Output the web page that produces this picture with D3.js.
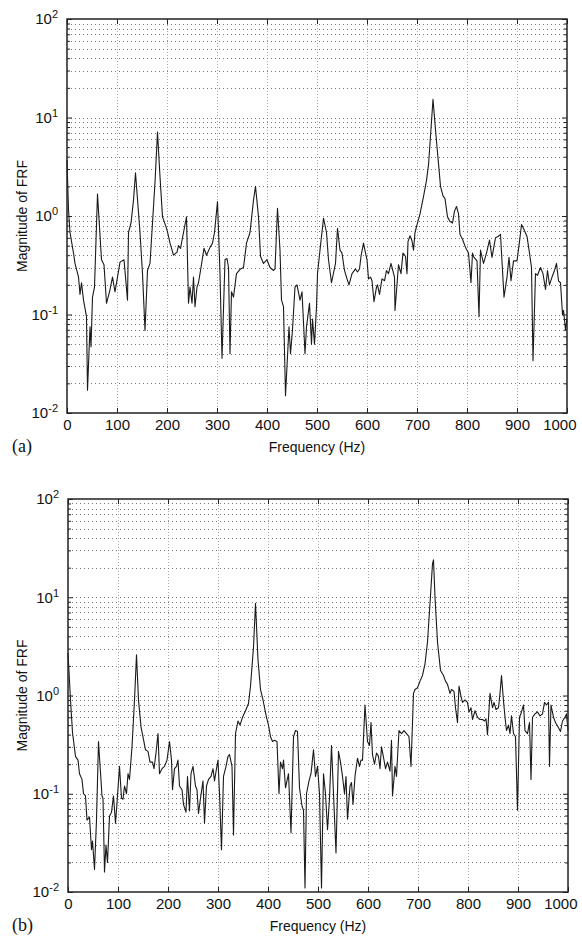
<!DOCTYPE html>
<html>
<head>
<meta charset="utf-8">
<script src="https://cdn.jsdelivr.net/npm/d3@7/dist/d3.min.js"></script>
<style>
  body { margin: 0; background: #fff; }
  svg { display: block; }
</style>
</head>
<body>
<div id="chart"></div>
<script>
// x tick values and y decade range shared by both panels
var freqTicks = [0, 100, 200, 300, 400, 500, 600, 700, 800, 900, 1000];
var magDomain = [0.01, 100];
var xLabel = "Frequency (Hz)";
var yLabel = "Magnitude of FRF";

// panel (a)
var freqA = [0, 3, 6, 13, 16, 23, 26, 29, 33, 39, 41, 46, 48, 51, 55, 61, 69, 74, 79, 85,
    91, 96, 101, 106, 114, 121, 123, 128, 133, 137, 146, 151, 156, 161, 166, 171, 176, 181, 186, 191,
    198, 201, 206, 213, 220, 223, 227, 233, 239, 243, 246, 250, 253, 256, 260, 263, 268, 274, 279, 286,
    291, 295, 301, 306, 310, 316, 320, 323, 326, 329, 333, 339, 347, 353, 359, 366, 373, 377, 383, 387,
    393, 400, 406, 413, 416, 421, 426, 429, 433, 437, 444, 447, 451, 456, 460, 466, 470, 474, 476, 479,
    485, 489, 491, 495, 499, 501, 506, 513, 519, 523, 529, 537, 541, 546, 550, 555, 560, 564, 570, 577,
    581, 585, 588, 593, 597, 600, 603, 607, 610, 614, 619, 621, 625, 630, 635, 639, 643, 648, 655, 656,
    663, 668, 672, 677, 680, 682, 686, 690, 693, 696, 699, 706, 713, 719, 723, 727, 732, 737, 743, 747,
    752, 756, 761, 766, 771, 775, 779, 783, 786, 791, 797, 803, 808, 811, 814, 820, 824, 827, 833, 839,
    845, 850, 857, 862, 867, 874, 880, 884, 888, 893, 900, 905, 909, 914, 920, 925, 929, 932, 937, 941,
    947, 952, 957, 961, 965, 970, 975, 979, 983, 987, 991, 993, 997, 1000];
var magA = [3.7, 1.15, 0.68, 0.42, 0.33, 0.24, 0.16, 0.21, 0.14, 0.095, 0.017, 0.075, 0.047, 0.15, 0.19, 1.67, 0.36, 0.32, 0.13, 0.17,
    0.24, 0.17, 0.24, 0.34, 0.36, 0.14, 0.68, 0.85, 1.45, 2.75, 0.68, 0.26, 0.069, 0.28, 0.33, 0.85, 2.2, 7.1, 2.5, 0.98,
    0.78, 0.69, 0.53, 0.40, 0.43, 0.50, 0.47, 0.68, 0.98, 0.13, 0.19, 0.13, 0.24, 0.12, 0.19, 0.21, 0.30, 0.47, 0.40, 0.48,
    0.53, 0.68, 1.4, 0.26, 0.036, 0.36, 0.37, 0.30, 0.04, 0.17, 0.15, 0.26, 0.29, 0.30, 0.53, 0.68, 1.45, 2.0, 0.98, 0.39,
    0.33, 0.36, 0.30, 0.28, 0.29, 1.2, 0.45, 0.14, 0.12, 0.015, 0.075, 0.04, 0.07, 0.19, 0.20, 0.14, 0.17, 0.065, 0.04, 0.075,
    0.13, 0.05, 0.09, 0.05, 0.12, 0.26, 0.45, 0.95, 0.68, 0.36, 0.21, 0.33, 0.75, 0.45, 0.42, 0.28, 0.23, 0.20, 0.26, 0.29,
    0.27, 0.29, 0.39, 0.53, 0.42, 0.36, 0.23, 0.24, 0.22, 0.135, 0.19, 0.20, 0.16, 0.23, 0.22, 0.28, 0.26, 0.33, 0.24, 0.11,
    0.32, 0.26, 0.42, 0.39, 0.26, 0.55, 0.63, 0.56, 0.45, 0.68, 0.78, 1.05, 1.57, 2.3, 3.3, 6.5, 15.3, 7.5, 3.4, 2.0,
    1.6, 1.5, 0.98, 0.88, 0.85, 1.12, 1.25, 1.05, 0.65, 0.58, 0.48, 0.42, 0.21, 0.42, 0.38, 0.35, 0.095, 0.45, 0.33, 0.42,
    0.57, 0.38, 0.60, 0.62, 0.65, 0.15, 0.24, 0.38, 0.22, 0.35, 0.35, 0.55, 0.82, 0.73, 0.62, 0.42, 0.30, 0.034, 0.26, 0.25,
    0.30, 0.26, 0.18, 0.28, 0.20, 0.24, 0.28, 0.33, 0.22, 0.21, 0.10, 0.11, 0.07, 0.09];

// panel (b)
var freqB = [0, 5, 9, 15, 20, 23, 28, 31, 35, 38, 43, 47, 49, 53, 57, 61, 68, 70, 73, 76,
    79, 83, 87, 91, 95, 98, 103, 107, 110, 113, 117, 120, 123, 128, 133, 137, 141, 146, 150, 155,
    160, 164, 169, 172, 176, 180, 183, 188, 193, 198, 203, 207, 209, 213, 217, 220, 223, 228, 231, 236,
    239, 243, 246, 250, 255, 258, 261, 265, 270, 273, 277, 281, 286, 290, 293, 297, 300, 303, 307, 311,
    316, 320, 323, 328, 331, 335, 340, 344, 349, 354, 361, 365, 371, 375, 380, 385, 390, 397, 401, 405,
    409, 413, 418, 422, 425, 429, 431, 435, 441, 446, 451, 455, 459, 463, 468, 471, 474, 477, 482, 486,
    491, 495, 499, 503, 507, 511, 515, 519, 523, 527, 531, 536, 541, 545, 549, 553, 556, 559, 564, 567,
    570, 574, 579, 583, 586, 589, 594, 599, 603, 606, 609, 613, 617, 621, 624, 627, 632, 635, 639, 644,
    647, 649, 654, 657, 662, 667, 672, 677, 682, 686, 691, 694, 699, 704, 709, 714, 719, 724, 729, 731,
    734, 739, 745, 751, 755, 759, 764, 767, 772, 775, 779, 782, 786, 789, 794, 799, 802, 806, 809, 814,
    819, 824, 829, 833, 836, 839, 844, 849, 852, 856, 861, 864, 867, 871, 874, 877, 881, 884, 887, 891,
    895, 899, 903, 907, 911, 914, 919, 923, 926, 929, 934, 939, 944, 949, 953, 957, 961, 963, 966, 971,
    975, 981, 985, 989, 994, 997, 1000];
var magB = [2.7, 0.9, 0.42, 0.24, 0.22, 0.16, 0.14, 0.10, 0.095, 0.054, 0.058, 0.027, 0.033, 0.017, 0.054, 0.34, 0.095, 0.09, 0.016, 0.03,
    0.02, 0.059, 0.065, 0.095, 0.05, 0.08, 0.19, 0.09, 0.088, 0.12, 0.10, 0.16, 0.14, 0.30, 0.9, 2.6, 0.9, 0.48, 0.38, 0.28,
    0.27, 0.21, 0.21, 0.18, 0.26, 0.41, 0.16, 0.18, 0.19, 0.22, 0.34, 0.22, 0.11, 0.18, 0.19, 0.22, 0.12, 0.11, 0.078, 0.065,
    0.15, 0.067, 0.16, 0.19, 0.12, 0.11, 0.063, 0.09, 0.135, 0.05, 0.12, 0.14, 0.15, 0.18, 0.135, 0.18, 0.22, 0.10, 0.027, 0.15,
    0.19, 0.24, 0.25, 0.19, 0.038, 0.41, 0.55, 0.5, 0.6, 0.68, 0.83, 1.25, 3.1, 8.7, 2.3, 1.15, 0.9, 0.6, 0.5, 0.38,
    0.34, 0.35, 0.34, 0.10, 0.21, 0.18, 0.22, 0.115, 0.16, 0.04, 0.38, 0.44, 0.43, 0.115, 0.075, 0.068, 0.011, 0.10, 0.135, 0.16,
    0.28, 0.15, 0.19, 0.10, 0.011, 0.16, 0.10, 0.043, 0.09, 0.31, 0.10, 0.025, 0.27, 0.21, 0.15, 0.10, 0.15, 0.055, 0.12, 0.13,
    0.078, 0.15, 0.23, 0.19, 0.22, 0.22, 0.8, 0.34, 0.31, 0.53, 0.25, 0.20, 0.26, 0.24, 0.18, 0.30, 0.22, 0.18, 0.21, 0.17,
    0.35, 0.095, 0.19, 0.15, 0.44, 0.41, 0.44, 0.41, 0.38, 0.19, 1.05, 1.15, 1.2, 1.4, 1.6, 2.1, 3.5, 8.7, 22, 24,
    10, 3.5, 1.8, 1.6, 1.4, 1.3, 1.05, 1.15, 1.1, 0.75, 0.53, 1.25, 0.98, 0.85, 0.9, 0.85, 0.68, 0.75, 0.57, 0.7,
    0.6, 0.57, 0.57, 0.55, 0.58, 0.4, 1.05, 0.75, 0.85, 0.72, 0.75, 1.05, 1.6, 0.88, 0.6, 0.44, 0.5, 0.41, 0.62, 0.41,
    0.38, 0.068, 0.6, 0.68, 0.8, 0.44, 0.41, 0.53, 0.14, 0.6, 0.65, 0.68, 0.62, 0.65, 0.85, 0.8, 0.85, 0.19, 0.8, 0.6,
    0.53, 0.47, 0.43, 0.55, 0.6, 0.65, 0.44];

var W = 582, H = 938;
var sansFont = "'Liberation Sans', Arial, Helvetica, sans-serif";
var serifFont = "'Liberation Serif', 'Times New Roman', serif";

var svg = d3.select("#chart").append("svg")
    .attr("width", W)
    .attr("height", H)
    .style("font-family", sansFont);

function cleanAxis(a) {
    a.attr("font-family", null).attr("font-size", null);
    a.select(".domain").remove();
    a.selectAll(".tick line").attr("stroke", "#222");
}

function drawPanel(box, freq, mag, tag) {
    var x = d3.scaleLinear().domain([0, 1000]).range([box.left, box.right]);
    var y = d3.scaleLog().domain(magDomain).range([box.bottom, box.top]);
    var g = svg.append("g");

    var allY = y.ticks();
    var majorY = allY.filter(function (d) { return Math.abs(Math.log10(d) - Math.round(Math.log10(d))) < 1e-9; });
    var minorY = allY.filter(function (d) { return majorY.indexOf(d) < 0; });

    // grid
    g.append("g").selectAll("line")
        .data(freqTicks.slice(1, -1))
        .enter().append("line")
        .attr("x1", function (d) { return Math.round(x(d)) + 0.5; })
        .attr("x2", function (d) { return Math.round(x(d)) + 0.5; })
        .attr("y1", box.top).attr("y2", box.bottom)
        .attr("stroke", "#aaa")
        .attr("stroke-width", 1)
        .attr("stroke-dasharray", "1,2");

    g.append("g").selectAll("line")
        .data(allY.filter(function (d) { return d > magDomain[0] && d < magDomain[1]; }))
        .enter().append("line")
        .attr("x1", box.left).attr("x2", box.right)
        .attr("y1", function (d) { return Math.round(y(d)) + 0.5; })
        .attr("y2", function (d) { return Math.round(y(d)) + 0.5; })
        .attr("stroke", "#777")
        .attr("stroke-width", 1)
        .attr("stroke-dasharray", "1,3");

    // the FRF curve
    var pts = freq.map(function (f, i) { return [f, mag[i]]; });
    g.append("path")
        .datum(pts)
        .attr("fill", "none")
        .attr("stroke", "#1a1a1a")
        .attr("stroke-width", 1.1)
        .attr("stroke-linejoin", "round")
        .attr("d", d3.line()
            .x(function (d) { return x(d[0]); })
            .y(function (d) { return y(d[1]); }));

    // axes, ticks pointing inward
    g.append("g")
        .attr("transform", "translate(0," + box.bottom + ")")
        .call(d3.axisBottom(x).tickValues(freqTicks).tickFormat(d3.format("d"))
            .tickSizeInner(-5).tickSizeOuter(0).tickPadding(6))
        .call(cleanAxis)
        .call(function (a) {
            a.selectAll("text").style("font-size", "15px").attr("fill", "#111");
            // last label sits a bit left so it stays inside the page
            a.selectAll("text").filter(function (d) { return d === 1000; })
                .attr("text-anchor", "end").attr("x", 9);
        });
    g.append("g")
        .attr("transform", "translate(0," + box.top + ")")
        .call(d3.axisTop(x).tickValues(freqTicks).tickSizeInner(-5).tickSizeOuter(0).tickFormat(""))
        .call(cleanAxis);

    g.append("g")
        .attr("transform", "translate(" + box.left + ",0)")
        .call(d3.axisLeft(y).tickValues(majorY).tickSizeInner(-5).tickSizeOuter(0).tickPadding(9))
        .call(cleanAxis)
        .call(function (a) {
            a.selectAll("text").each(function (d) {
                var t = d3.select(this).text(null)
                    .style("font-size", "15px")
                    .attr("fill", "#111");
                t.append("tspan").text("10");
                t.append("tspan").attr("dy", "-6").style("font-size", "11px")
                    .text(String(Math.round(Math.log10(d))));
            });
        });
    g.append("g")
        .attr("transform", "translate(" + box.left + ",0)")
        .call(d3.axisLeft(y).tickValues(minorY).tickSizeInner(-3).tickSizeOuter(0).tickFormat(""))
        .call(cleanAxis);
    g.append("g")
        .attr("transform", "translate(" + box.right + ",0)")
        .call(d3.axisRight(y).tickValues(majorY).tickSizeInner(-5).tickSizeOuter(0).tickFormat(""))
        .call(cleanAxis);
    g.append("g")
        .attr("transform", "translate(" + box.right + ",0)")
        .call(d3.axisRight(y).tickValues(minorY).tickSizeInner(-3).tickSizeOuter(0).tickFormat(""))
        .call(cleanAxis);

    // box
    g.append("rect")
        .attr("x", box.left).attr("y", box.top)
        .attr("width", box.right - box.left)
        .attr("height", box.bottom - box.top)
        .attr("fill", "none")
        .attr("stroke", "#222")
        .attr("stroke-width", 1.5);

    // labels
    g.append("text")
        .attr("x", (box.left + box.right) / 2)
        .attr("y", box.bottom + 39)
        .attr("text-anchor", "middle")
        .attr("fill", "#111")
        .style("font-size", "14px")
        .text(xLabel);

    g.append("text")
        .attr("transform", "translate(27," + (box.top + box.bottom) / 2 + ") rotate(-90)")
        .attr("text-anchor", "middle")
        .attr("fill", "#111")
        .style("font-size", "14px")
        .text(yLabel);

    g.append("text")
        .attr("x", 12)
        .attr("y", box.bottom + 39)
        .attr("fill", "#111")
        .style("font-family", serifFont)
        .style("font-size", "18px")
        .text(tag);
}

drawPanel({ left: 67, right: 567, top: 19, bottom: 413 }, freqA, magA, "(a)");
drawPanel({ left: 68, right: 568, top: 499, bottom: 892 }, freqB, magB, "(b)");
</script>
</body>
</html>
